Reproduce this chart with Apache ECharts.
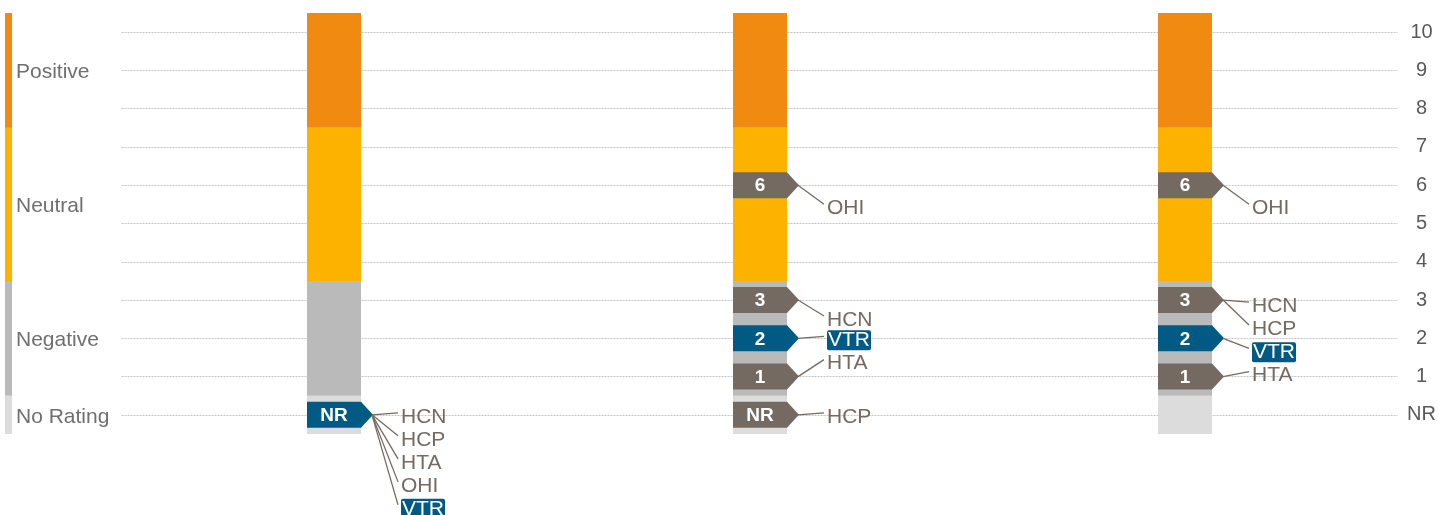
<!DOCTYPE html>
<html>
<head>
<meta charset="utf-8">
<script src="https://cdn.jsdelivr.net/npm/echarts@6/dist/echarts.min.js"></script>
<style>
html, body { margin: 0; padding: 0; background: #fff; }
#chart { width: 1439px; height: 515px; }
</style>
</head>
<body>
<div id="chart"></div>
<script>
// rating bands (the coloured columns)
var bandNames = ['No Rating', 'Negative', 'Neutral', 'Positive'];
var bandFrom = [-0.5, 0.5, 3.5, 7.5];
var bandTo = [0.5, 3.5, 7.5, 10.5];
var bandColors = ['#dcdcdc', '#bababa', '#fdb200', '#f08a11'];

// y axis tick labels, value 0 = NR
var tickLabels = ['NR', '1', '2', '3', '4', '5', '6', '7', '8', '9', '10'];

// three snapshots, companies and their rating in each (0 = NR, null = none)
var periods = ['Period 1', 'Period 2', 'Period 3'];
var companies = ['HCN', 'HCP', 'HTA', 'OHI', 'VTR'];
var ratingP1 = [0, 0, 0, 0, 0];
var ratingP2 = [3, 0, 1, 6, 2];
var ratingP3 = [3, 3, 1, 6, 2];
var highlight = 'VTR';

// hand placement of the ticker labels (pixel shift from stacked spot)
var labelNudge = [
	{},
	{ OHI: 21, HCN: 18, HTA: -15 },
	{ OHI: 21, HCN: 4, HCP: 4, VTR: 12, HTA: -3 }
];

var BAR_W = 54, MARK_H = 26, TIP = 12, LINE_GAP = 25, TEXT_GAP = 28, ROW = 23;
var C_MARK = '#756a61', C_BLUE = '#005a84', C_TEXT = '#6f6f6f';
var FONT = 'Arial, "Liberation Sans", sans-serif';

var ratings = [ratingP1, ratingP2, ratingP3];

// one data item per band per period
var bandData = [];
periods.forEach(function(p, i) {
	bandNames.forEach(function(b, j) {
		bandData.push([i, bandFrom[j], bandTo[j], j]);
	});
});
var legendData = bandNames.map(function(b, j) {
	return [0, bandFrom[j], bandTo[j], j];
});

// group companies by rating per period
var markerData = [];
ratings.forEach(function(r, i) {
	var groups = {};
	companies.forEach(function(c, k) {
		if (r[k] === null || r[k] === undefined) return;
		(groups[r[k]] = groups[r[k]] || []).push(c);
	});
	Object.keys(groups).forEach(function(v) {
		markerData.push([i, +v, groups[v].join(',')]);
	});
});

function renderBand(params, api) {
	var from = api.coord([api.value(0), api.value(1)]);
	var to = api.coord([api.value(0), api.value(2)]);
	var x = Math.round(from[0] - BAR_W / 2);
	return {
		type: 'rect',
		shape: { x: x, y: to[1], width: BAR_W, height: from[1] - to[1] },
		style: { fill: bandColors[api.value(3)] }
	};
}

function renderLegend(params, api) {
	var from = api.coord([0, api.value(1)]);
	var to = api.coord([0, api.value(2)]);
	var j = api.value(3);
	return {
		type: 'group',
		children: [{
			type: 'rect',
			shape: { x: 5, y: to[1], width: 7, height: from[1] - to[1] },
			style: { fill: bandColors[j] }
		}, {
			type: 'text',
			style: {
				x: 16, y: (from[1] + to[1]) / 2 + 2, text: bandNames[j],
				fill: C_TEXT, font: '21px ' + FONT, verticalAlign: 'middle'
			}
		}]
	};
}

function renderMarker(params, api) {
	var i = api.value(0), v = api.value(1);
	var names = markerData[params.dataIndex][2].split(',');
	var c = api.coord([i, v]);
	var l = Math.round(c[0] - BAR_W / 2), r = l + BAR_W, y = c[1], h = MARK_H / 2;
	var tipX = r + TIP;
	var hot = names.indexOf(highlight) >= 0;
	var kids = [{
		type: 'polygon',
		shape: { points: [[l, y - h], [r, y - h], [tipX, y], [r, y + h], [l, y + h]] },
		style: { fill: hot ? C_BLUE : C_MARK }
	}, {
		type: 'text',
		style: {
			x: l + BAR_W / 2, y: y + 1, text: tickLabels[v], fill: '#fff',
			font: 'bold 19px ' + FONT, align: 'center', verticalAlign: 'middle'
		}
	}];
	names.forEach(function(n, k) {
		var ly = y + k * ROW + (labelNudge[i][n] || 0);
		kids.push({
			type: 'line',
			shape: { x1: tipX - 1, y1: y, x2: tipX + LINE_GAP, y2: ly - 2 },
			style: { stroke: C_MARK, lineWidth: 1.3 }
		});
		var isHot = n === highlight;
		kids.push({
			type: 'text',
			style: {
				x: tipX + TEXT_GAP, y: ly + 2, text: n,
				fill: isHot ? '#fff' : C_MARK, font: '21px ' + FONT,
				verticalAlign: 'middle',
				backgroundColor: isHot ? C_BLUE : null,
				padding: isHot ? [0, 1, -1, 1] : 0,
				borderRadius: 2
			}
		});
	});
	return { type: 'group', children: kids };
}

var chart = echarts.init(document.getElementById('chart'));
chart.setOption({
	animation: false,
	grid: [
		{ left: 121.5, right: 37.5, top: 13, bottom: 81 },
		{ left: 0, width: 120, top: 13, bottom: 81 }
	],
	xAxis: [
		{ type: 'category', data: periods, gridIndex: 0, show: false },
		{ type: 'category', data: ['band'], gridIndex: 1, show: false }
	],
	yAxis: [{
		type: 'value', gridIndex: 0, position: 'right',
		min: -0.5, max: 10.5, interval: 0.5,
		axisLine: { show: false }, axisTick: { show: false },
		axisLabel: {
			margin: 24, align: 'center', color: '#595959',
			fontFamily: FONT, fontSize: 20, padding: [4, 0, 0, 0],
			formatter: function(v) {
				return Math.round(v) === v ? tickLabels[v] : '';
			}
		},
		splitLine: {
			lineStyle: { color: ['rgba(0,0,0,0)', '#c4c4c4'], type: [2, 1], width: 1 }
		}
	}, {
		type: 'value', gridIndex: 1, min: -0.5, max: 10.5, show: false
	}],
	series: [{
		type: 'custom', xAxisIndex: 0, yAxisIndex: 0,
		renderItem: renderBand, data: bandData, silent: true
	}, {
		type: 'custom', xAxisIndex: 1, yAxisIndex: 1,
		renderItem: renderLegend, data: legendData, silent: true
	}, {
		type: 'custom', xAxisIndex: 0, yAxisIndex: 0, clip: false,
		renderItem: renderMarker, data: markerData.map(function(d) { return [d[0], d[1]]; }),
		silent: true
	}]
});
</script>
</body>
</html>
